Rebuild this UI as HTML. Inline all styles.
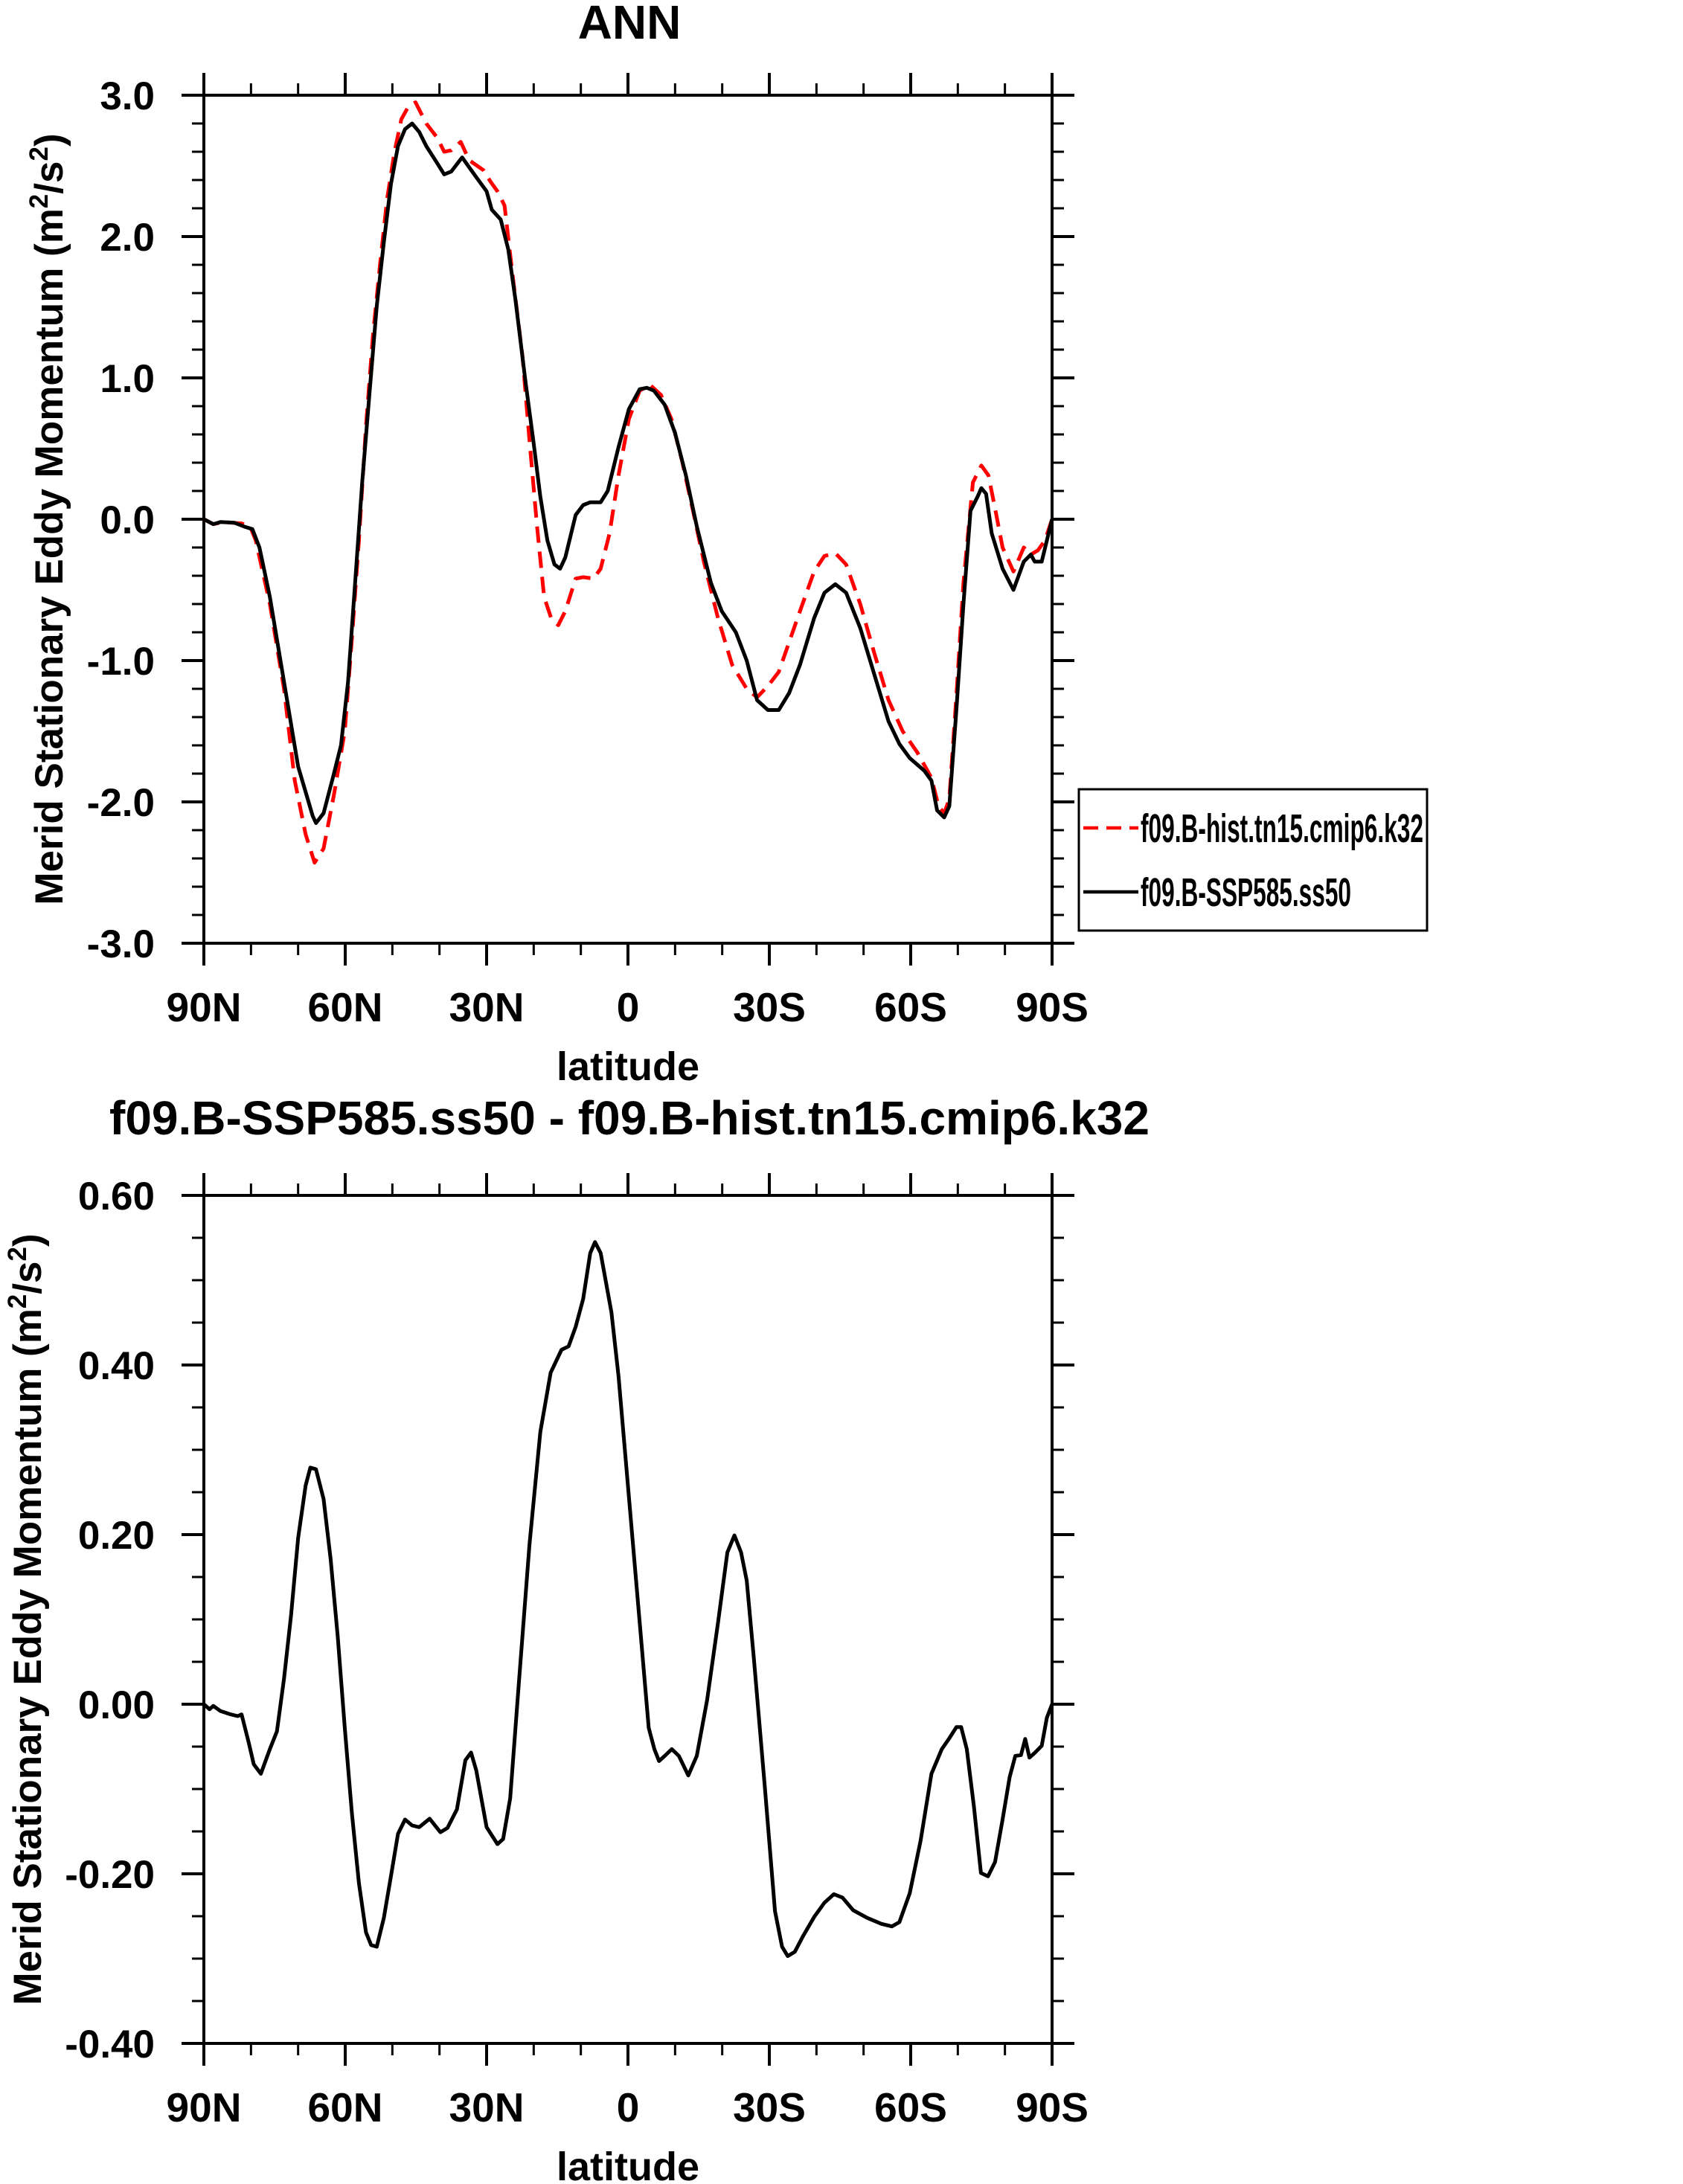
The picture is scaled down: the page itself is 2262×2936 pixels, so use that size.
<!DOCTYPE html>
<html><head><meta charset="utf-8"><style>
html,body{margin:0;padding:0;background:#fff;}
svg{display:block;font-family:"Liberation Sans",Arial,sans-serif;font-weight:bold;}
</style></head><body>
<svg id="fig" width="2262" height="2936" viewBox="0 0 2262 2936" xmlns="http://www.w3.org/2000/svg"></svg>
<script>
// ---- Top panel data (latitude: +90 = 90N, -90 = 90S) ----
const topLatBlack=[90,88,86.5,83.5,81.2,79.7,78.2,76,73,70,66.9,66.2,64.6,62.4,60.9,59.4,57.9,56.4,54.8,53.3,51.8,50.3,48.8,47.3,45.8,44.3,42.8,40.5,39,37.5,35.2,33.7,32.2,30,28.9,27,25.4,23.9,21.7,20.1,18.6,17.1,15.6,14.4,13.3,11.1,9.5,8,5.8,4.3,2,-0.2,-2.5,-4,-5.5,-7.8,-10,-12.3,-14.6,-17.6,-19.9,-22.9,-25.2,-27.4,-29.7,-32,-34.2,-36.5,-39.5,-41.7,-44,-46.3,-49.3,-52.3,-55.3,-57.6,-59.8,-62.9,-64.4,-65.6,-67.1,-68.2,-69.7,-71.2,-72.7,-74.2,-75,-76,-77.2,-79.5,-81.8,-84,-85.5,-86.3,-87.8,-90];
const topValBlack=[0,-0.035,-0.02,-0.025,-0.055,-0.07,-0.2,-0.55,-1.15,-1.75,-2.1,-2.15,-2.08,-1.8,-1.6,-1.15,-0.45,0.26,0.91,1.51,1.96,2.37,2.64,2.76,2.8,2.74,2.64,2.52,2.44,2.46,2.56,2.49,2.42,2.32,2.19,2.12,1.91,1.56,0.96,0.56,0.16,-0.15,-0.32,-0.35,-0.27,0.03,0.1,0.12,0.12,0.2,0.51,0.78,0.92,0.93,0.91,0.81,0.61,0.31,-0.05,-0.45,-0.65,-0.8,-1.0,-1.28,-1.35,-1.35,-1.23,-1.03,-0.7,-0.52,-0.46,-0.52,-0.77,-1.1,-1.43,-1.59,-1.69,-1.78,-1.85,-2.06,-2.11,-2.03,-1.35,-0.6,0.06,0.16,0.22,0.18,-0.1,-0.35,-0.5,-0.3,-0.25,-0.3,-0.3,0];
const topLatRed=[90,88,85.8,82,80.2,79,76,73,70.7,68.4,66.5,64.6,62.4,60.1,58.6,57.1,55.6,54.1,52.6,51.1,49.6,48.1,46.6,45.1,42.8,40.5,39,37.5,35.5,33.7,30.7,29.2,27.7,26.2,24.6,22.4,20.9,19.3,17.8,16.3,14.8,13.3,11.1,9.5,7.3,5.8,3.9,2,-0.2,-2.5,-4.7,-7,-9.2,-11.5,-13.8,-16.1,-19.1,-22.1,-25.2,-27.4,-29.7,-32,-34.2,-36.5,-39.5,-41.7,-44,-46.3,-49.3,-52.3,-55.3,-58.3,-61.4,-64.4,-65.9,-67.1,-68.2,-69.7,-71.2,-73.2,-75,-76.5,-78,-79.5,-81.8,-84,-85.5,-87,-88.5,-90];
const topValRed=[0,-0.035,-0.02,-0.03,-0.05,-0.15,-0.6,-1.2,-1.85,-2.23,-2.43,-2.33,-1.95,-1.5,-0.85,-0.15,0.66,1.31,1.81,2.27,2.59,2.83,2.92,2.95,2.8,2.7,2.6,2.61,2.67,2.54,2.47,2.39,2.32,2.22,1.76,1.16,0.56,-0.05,-0.55,-0.7,-0.75,-0.65,-0.42,-0.41,-0.42,-0.35,-0.1,0.31,0.71,0.91,0.95,0.88,0.71,0.41,0.06,-0.3,-0.7,-1.03,-1.2,-1.26,-1.18,-1.08,-0.87,-0.65,-0.37,-0.26,-0.24,-0.32,-0.6,-0.95,-1.28,-1.5,-1.65,-1.83,-2.03,-2.08,-1.98,-1.25,-0.45,0.26,0.38,0.31,0.06,-0.2,-0.37,-0.2,-0.25,-0.22,-0.15,0];
// ---- Bottom panel data (difference) ----
const botLat=[90,88.8,88,86.5,84.3,82.8,82,80.5,79.4,77.9,76,74.5,73,71.5,70,68.4,67.4,66.2,64.6,63.1,61.6,60.1,58.6,57.1,55.6,54.5,53.3,51.8,50.3,48.8,47.3,45.8,44.3,42.1,39.8,38.3,36.3,34.5,33.3,32.2,30,27.7,26.5,25,23.2,20.9,18.6,16.4,14.1,12.6,11.1,9.5,8,7,5.8,3.5,2,-0.3,-2.5,-4.4,-5.6,-6.6,-7.8,-9.3,-10.8,-12.8,-14.6,-16.8,-19.1,-21.1,-22.6,-24,-25.2,-26.7,-29,-31.2,-32.7,-33.9,-35.4,-37.2,-39.5,-41.7,-43.7,-45.5,-47.8,-50.8,-53.8,-56,-57.6,-59.8,-62.1,-64.4,-66.6,-68.1,-69.7,-70.7,-71.9,-73.4,-74.9,-76.4,-77.9,-79.5,-81,-82.2,-83.4,-84.3,-85.2,-86.4,-87.8,-88.9,-90];
const botVal=[0,-0.006,-0.002,-0.008,-0.012,-0.014,-0.012,-0.045,-0.071,-0.082,-0.053,-0.032,0.03,0.105,0.196,0.258,0.279,0.277,0.242,0.171,0.08,-0.028,-0.128,-0.211,-0.269,-0.284,-0.286,-0.252,-0.203,-0.153,-0.136,-0.143,-0.145,-0.135,-0.151,-0.146,-0.124,-0.066,-0.057,-0.078,-0.145,-0.165,-0.159,-0.111,0.022,0.188,0.321,0.391,0.418,0.422,0.445,0.478,0.532,0.545,0.532,0.462,0.387,0.238,0.096,-0.028,-0.053,-0.067,-0.061,-0.053,-0.061,-0.084,-0.061,0.005,0.096,0.179,0.199,0.179,0.146,0.055,-0.095,-0.244,-0.286,-0.297,-0.292,-0.273,-0.251,-0.234,-0.224,-0.228,-0.243,-0.252,-0.259,-0.262,-0.257,-0.223,-0.161,-0.082,-0.053,-0.041,-0.027,-0.027,-0.053,-0.12,-0.199,-0.203,-0.186,-0.136,-0.086,-0.061,-0.06,-0.041,-0.063,-0.057,-0.049,-0.016,0];
const xTickVals=[90,60,30,0,-30,-60,-90];
const xTickLabels=["90N","60N","30N","0","30S","60S","90S"];
const topYTicks=[3,2,1,0,-1,-2,-3];
const topYLabels=["3.0","2.0","1.0","0.0","-1.0","-2.0","-3.0"];
const botYTicks=[0.6,0.4,0.2,0,-0.2,-0.4];
const botYLabels=["0.60","0.40","0.20","0.00","-0.20","-0.40"];

const NS="http://www.w3.org/2000/svg";
const svg=document.getElementById('fig');
function mk(tag,attrs,parent){const e=document.createElementNS(NS,tag);for(const k in attrs)e.setAttribute(k,attrs[k]);(parent||svg).appendChild(e);return e;}

function panel(p){
  const L=274,R=1414,T=p.top,B=p.top+1140;
  const g=mk('g',{});
  
  
  const xs=v=>L+(90-v)/180*(R-L);
  const ys=v=>T+(p.ymax-v)/(p.ymax-p.ymin)*(B-T);
  for(let v=90;v>=-90;v-=10){
    const x=xs(v);const major=(v%30===0);const len=major?30:16;
    const t1=mk('line',{x1:x,x2:x,y1:B,y2:B+len,stroke:'#000','stroke-width':major?4:3},g);
    
    
    const t2=mk('line',{x1:x,x2:x,y1:T,y2:T-len,stroke:'#000','stroke-width':major?4:3},g);
    
    
  }
  for(let i=0;i<xTickVals.length;i++){
    const t=mk('text',{x:xs(xTickVals[i]),y:B+105,'font-size':55,'text-anchor':'middle'},g);
    t.textContent=xTickLabels[i];
    
    
  }
  const nMinor=Math.round((p.ymax-p.ymin)/p.minor);
  for(let i=0;i<=nMinor;i++){
    const v=p.ymax-i*p.minor;const y=ys(v);
    const major=(i%p.per===0);const len=major?30:16;
    const a=mk('line',{x1:L,x2:L-len,y1:y,y2:y,stroke:'#000','stroke-width':major?4:3},g);
    
    
    const b=mk('line',{x1:R,x2:R+len,y1:y,y2:y,stroke:'#000','stroke-width':major?4:3},g);
    
    
  }
  for(let i=0;i<p.yt.length;i++){
    const t=mk('text',{x:208,y:ys(p.yt[i])+19,'font-size':53,'text-anchor':'end'},g);
    t.textContent=p.yl[i];
    
    
  }
  const fr=mk('rect',{x:L,y:T,width:R-L,height:B-T,fill:'none',stroke:'#000','stroke-width':4},g);
  
  
  p.series.forEach(s=>{
    let d='';
    for(let i=0;i<s.lat.length;i++){d+=(i?'L':'M')+xs(s.lat[i]).toFixed(1)+','+ys(s.val[i]).toFixed(1);}
    const pa=mk('path',{d:d,fill:'none',stroke:s.color,'stroke-width':s.w,'stroke-linejoin':'round','stroke-dasharray':s.dash||'none'},g);
    
    
  });
  const xl=mk('text',{x:(L+R)/2,y:B+184,'font-size':54,'text-anchor':'middle'},g);
  xl.textContent='latitude';
  
  
  const cy=(T+B)/2;
  const yl=mk('text',{x:p.ytx,y:cy,'font-size':53,'text-anchor':'middle',transform:`rotate(-90 ${p.ytx} ${cy})`},g);
  yl.innerHTML='Merid Stationary Eddy Momentum (m<tspan dy="-20" font-size="35">2</tspan><tspan dy="20">/s</tspan><tspan dy="-20" font-size="35">2</tspan><tspan dy="20">)</tspan>';
  
  
  const ti=mk('text',{x:(L+R)/2+2,y:p.titleY,'font-size':p.titleSize,'text-anchor':'middle'},g);
  ti.textContent=p.title;
  
  
}

panel({name:'top-panel',top:128,ymax:3,ymin:-3,minor:0.2,per:5,yt:topYTicks,yl:topYLabels,ytx:84,title:'ANN',titleY:52,titleSize:64,
  series:[{name:'red-dashed-hist-line',lat:topLatRed,val:topValRed,color:'#f00',w:5,dash:'22 12'},
          {name:'black-ssp585-line',lat:topLatBlack,val:topValBlack,color:'#000',w:5}]});
panel({name:'bottom-panel',top:1607,ymax:0.6,ymin:-0.4,minor:0.05,per:4,yt:botYTicks,yl:botYLabels,ytx:55,title:'f09.B-SSP585.ss50 - f09.B-hist.tn15.cmip6.k32',titleY:1525,titleSize:64,
  series:[{name:'difference-line',lat:botLat,val:botVal,color:'#000',w:5}]});

const lg=mk('g',{});


const lb=mk('rect',{x:1450,y:1061,width:468,height:190,fill:'#fff',stroke:'#000','stroke-width':3},lg);


const l1=mk('line',{x1:1456,x2:1530,y1:1113,y2:1113,stroke:'#f00','stroke-width':4.5,'stroke-dasharray':'20 11'},lg);


const t1=mk('text',{x:1533,y:1132,'font-size':54,textLength:380,lengthAdjust:'spacingAndGlyphs'},lg);
t1.textContent='f09.B-hist.tn15.cmip6.k32';


const l2=mk('line',{x1:1456,x2:1530,y1:1199,y2:1199,stroke:'#000','stroke-width':4.5},lg);


const t2=mk('text',{x:1533,y:1218,'font-size':54,textLength:283,lengthAdjust:'spacingAndGlyphs'},lg);
t2.textContent='f09.B-SSP585.ss50';


</script>
</body></html>
